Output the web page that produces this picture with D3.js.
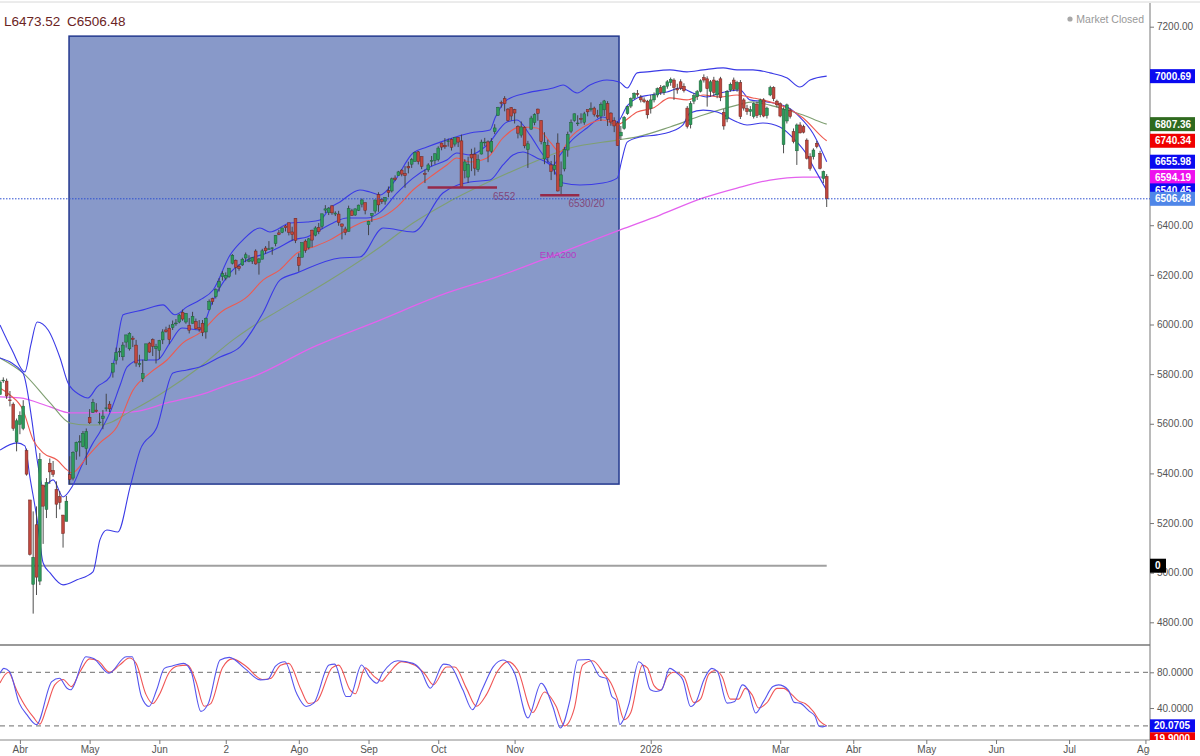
<!DOCTYPE html>
<html>
<head>
<meta charset="utf-8">
<script src="https://cdn.jsdelivr.net/npm/d3@7"></script>
<style>
  html, body { margin: 0; padding: 0; background: #fff; }
  svg { display: block; font-family: "Liberation Sans", Arial, sans-serif; }
</style>
</head>
<body>
<div id="chart"></div>
<script>
// bar index 0 = 1 Apr 2025, first bar (-6) = 24 Mar 2025, last bar (243) = 20 Mar 2026
const firstBar = -6;

const opens = [
  5718, 5776, 5772, 5696, 5679, 5527,
  5598, 5581, 5492, 5293, 4953, 5193, 4966, 5353, 5255, 5441, 5412, 5335, 5306, 5232, 5207, 5395, 5381, 5489, 5529, 5508, 5500,
  5626, 5645, 5655, 5606, 5621, 5663, 5679, 5808, 5856, 5891, 5870, 5929, 5902, 5945, 5917, 5841, 5782, 5855, 5925, 5939, 5903,
  5896, 5938, 5978, 5985, 5988, 6005, 6010, 6049, 6010, 5997, 6005, 6012, 5987, 6005, 5970, 6060, 6104, 6112, 6151, 6193,
  6187, 6193, 6247, 6259, 6234, 6240, 6268, 6255, 6255, 6296, 6249, 6263, 6308, 6305, 6307, 6326, 6369, 6371, 6397, 6410, 6373, 6428,
  6271, 6271, 6336, 6310, 6380, 6360, 6390, 6396, 6461, 6451, 6478, 6445, 6445, 6405, 6385, 6375, 6458, 6441, 6460, 6485, 6491,
  6402, 6439, 6457, 6523, 6503, 6497, 6539, 6538, 6590, 6600, 6622, 6609, 6637, 6646, 6657, 6696, 6676, 6608, 6623, 6660, 6661,
  6664, 6731, 6722, 6738, 6746, 6727, 6754, 6740, 6621, 6594, 6686, 6686, 6624, 6687, 6734, 6736, 6698, 6777, 6843, 6895, 6910, 6868, 6874,
  6866, 6797, 6763, 6794, 6705, 6787, 6814, 6868, 6822, 6667, 6722, 6643, 6625, 6731, 6557, 6627, 6703, 6779, 6822,
  6812, 6830, 6815, 6866, 6866, 6872, 6842, 6840, 6865, 6890, 6852, 6822, 6812, 6760, 6790, 6850, 6880, 6912, 6930, 6915, 6905, 6900,
  6870, 6905, 6925, 6955, 6935, 6960, 6975, 6985, 6950, 6978, 6960, 6872, 6805, 6900, 6918, 6940, 6995, 6990, 6940, 6985,
  6925, 6990, 6855, 6828, 6945, 6985, 6948, 6975, 6905, 6870, 6858, 6838, 6888, 6845, 6905, 6842, 6925, 6955, 6900,
  6890, 6725, 6820, 6862, 6777, 6700, 6804, 6797, 6743, 6676, 6676, 6730, 6690, 6589, 6596
];
const highs = [
  5775, 5787, 5782, 5732, 5686, 5621,
  5650, 5695, 5500, 5293, 5247, 5267, 5482, 5353, 5381, 5460, 5450, 5368, 5329, 5233, 5309, 5469, 5489, 5528, 5554, 5571, 5581,
  5659, 5700, 5683, 5644, 5655, 5721, 5691, 5845, 5907, 5906, 5929, 5959, 5969, 5954, 5938, 5878, 5858, 5922, 5930, 5944, 5922,
  5938, 5981, 5991, 5999, 6016, 6022, 6043, 6060, 6046, 6026, 6051, 6024, 6018, 6018, 6028, 6101, 6108, 6146, 6187, 6215,
  6210, 6227, 6284, 6262, 6242, 6269, 6290, 6279, 6272, 6303, 6268, 6305, 6316, 6336, 6310, 6360, 6381, 6390, 6401, 6410, 6394, 6428,
  6287, 6330, 6343, 6349, 6382, 6396, 6409, 6446, 6481, 6473, 6481, 6456, 6458, 6407, 6394, 6479, 6466, 6467, 6483, 6508, 6491,
  6418, 6449, 6502, 6533, 6510, 6513, 6556, 6592, 6601, 6619, 6626, 6638, 6656, 6671, 6697, 6699, 6677, 6624, 6650, 6679, 6689,
  6718, 6733, 6751, 6749, 6750, 6753, 6755, 6765, 6666, 6676, 6708, 6713, 6685, 6745, 6752, 6742, 6751, 6807, 6877, 6902, 6920, 6872, 6876,
  6869, 6803, 6818, 6799, 6740, 6841, 6851, 6870, 6823, 6775, 6745, 6659, 6683, 6770, 6657, 6715, 6777, 6826, 6850,
  6843, 6851, 6857, 6866, 6895, 6878, 6865, 6895, 6905, 6900, 6855, 6835, 6818, 6800, 6840, 6880, 6915, 6935, 6945, 6925, 6915, 6905,
  6925, 6935, 6955, 6965, 6965, 6985, 6995, 6992, 6970, 6988, 6972, 6880, 6900, 6932, 6945, 6988, 7008, 7000, 6985, 6998,
  6985, 6998, 6868, 6945, 6975, 6995, 6982, 6985, 6912, 6885, 6880, 6895, 6898, 6910, 6912, 6878, 6962, 6960, 6906,
  6895, 6875, 6890, 6870, 6790, 6810, 6815, 6805, 6750, 6690, 6710, 6740, 6700, 6620, 6606
];
const lows = [
  5718, 5765, 5700, 5670, 5572, 5489,
  5558, 5574, 5391, 5069, 4835, 4910, 4950, 5116, 5220, 5358, 5386, 5220, 5255, 5101, 5207, 5356, 5372, 5455, 5468, 5505, 5434,
  5599, 5644, 5645, 5597, 5578, 5650, 5647, 5786, 5839, 5869, 5855, 5907, 5895, 5909, 5830, 5828, 5768, 5855, 5886, 5873, 5843,
  5861, 5921, 5967, 5921, 5978, 5995, 6005, 6015, 6003, 5964, 6004, 5980, 5971, 5953, 5943, 6057, 6080, 6105, 6133, 6177,
  6178, 6188, 6242, 6201, 6217, 6236, 6251, 6251, 6244, 6241, 6201, 6263, 6285, 6303, 6281, 6315, 6360, 6368, 6375, 6359, 6338, 6328,
  6213, 6271, 6289, 6302, 6311, 6355, 6364, 6386, 6449, 6441, 6442, 6437, 6398, 6343, 6360, 6375, 6438, 6438, 6458, 6472, 6444,
  6360, 6413, 6447, 6454, 6486, 6483, 6513, 6532, 6578, 6599, 6597, 6551, 6609, 6631, 6657, 6645, 6626, 6570, 6615, 6638, 6645,
  6657, 6702, 6708, 6717, 6701, 6717, 6715, 6551, 6589, 6570, 6618, 6600, 6615, 6685, 6719, 6654, 6691, 6767, 6841, 6874, 6859, 6818, 6822,
  6810, 6750, 6753, 6710, 6631, 6786, 6803, 6821, 6726, 6646, 6653, 6582, 6604, 6536, 6521, 6617, 6676, 6771, 6817,
  6800, 6810, 6805, 6839, 6858, 6838, 6832, 6820, 6840, 6800, 6801, 6775, 6720, 6745, 6785, 6845, 6872, 6908, 6918, 6895, 6892, 6830,
  6850, 6895, 6915, 6925, 6925, 6950, 6962, 6905, 6930, 6945, 6935, 6790, 6790, 6888, 6905, 6935, 6975, 6878, 6918, 6920,
  6912, 6900, 6785, 6815, 6938, 6940, 6938, 6828, 6862, 6845, 6840, 6830, 6832, 6835, 6835, 6830, 6920, 6900, 6875,
  6835, 6690, 6810, 6830, 6730, 6643, 6770, 6770, 6665, 6620, 6665, 6710, 6625, 6570, 6473.52
];
const closes = [
  5768, 5776, 5712, 5693, 5581, 5612,
  5633, 5671, 5397, 5074, 5062, 4982, 5457, 5268, 5363, 5406, 5396, 5276, 5283, 5158, 5288, 5376, 5485, 5525, 5529, 5561, 5569,
  5604, 5686, 5650, 5607, 5631, 5664, 5660, 5844, 5887, 5892, 5917, 5958, 5964, 5940, 5845, 5842, 5802, 5922, 5889, 5912, 5912,
  5936, 5970, 5971, 5939, 6000, 6006, 6038, 6022, 6045, 5977, 6033, 5983, 5981, 5968, 6025, 6092, 6092, 6141, 6173, 6205,
  6198, 6227, 6279, 6230, 6226, 6263, 6281, 6260, 6269, 6244, 6264, 6297, 6297, 6305, 6309, 6359, 6363, 6389, 6390, 6371, 6362, 6339,
  6238, 6330, 6299, 6345, 6340, 6389, 6374, 6446, 6466, 6469, 6450, 6449, 6411, 6396, 6370, 6467, 6439, 6466, 6481, 6502, 6460,
  6416, 6448, 6502, 6482, 6495, 6512, 6532, 6587, 6584, 6615, 6606, 6600, 6631, 6664, 6693, 6656, 6637, 6605, 6643, 6661, 6688,
  6711, 6715, 6716, 6740, 6714, 6753, 6735, 6553, 6655, 6644, 6671, 6630, 6664, 6735, 6735, 6699, 6738, 6792, 6875, 6891, 6890, 6822, 6840,
  6852, 6771, 6796, 6720, 6728, 6832, 6846, 6851, 6737, 6734, 6672, 6617, 6642, 6538, 6603, 6705, 6766, 6813, 6849,
  6812, 6829, 6849, 6857, 6870, 6846, 6840, 6887, 6901, 6827, 6816, 6800, 6721, 6775, 6835, 6878, 6910, 6932, 6928, 6905, 6898, 6845,
  6905, 6925, 6950, 6935, 6960, 6978, 6988, 6955, 6945, 6952, 6942, 6798, 6890, 6922, 6938, 6982, 6985, 6950, 6978, 6935,
  6980, 6915, 6800, 6938, 6968, 6948, 6975, 6838, 6872, 6858, 6866, 6890, 6842, 6905, 6840, 6872, 6955, 6910, 6885,
  6840, 6868, 6885, 6838, 6737, 6804, 6772, 6775, 6670, 6629, 6703, 6717, 6629, 6616, 6506.48
];

// indicator lines: [bar index, price]
const bbUpper = [[-6,5998],[-2.4,5898],[1.5,5809],[3.3,5918],[5.2,6010],[8.5,5978],[12.1,5865],[14.5,5764],[18.1,5716],[20.5,5704],[23.2,5748],[27.1,5789],[28.6,5869],[31.1,6039],[33.2,6047],[37.1,6059],[43.1,6079],[46.7,6039],[50.3,6071],[54.2,6099],[58.2,6139],[63.3,6280],[67.2,6341],[72.3,6389],[75.3,6373],[81.4,6409],[86.5,6413],[90.4,6421],[93.4,6470],[96.4,6494],[102.4,6542],[105.4,6534],[108.5,6522],[112.4,6570],[118.4,6691],[122.6,6715],[128.6,6744],[135.6,6772],[141.6,6784],[143.1,6832],[146.7,6905],[152.7,6933],[160.6,6953],[163.6,6965],[167.8,6933],[171.7,6965],[176.8,6985],[180.5,6977],[182.9,6953],[185.9,7014],[188.9,7018],[195.8,7026],[200.9,7018],[205.8,7026],[211.8,7034],[216,7026],[220.8,7026],[225.9,7014],[231.1,6993],[234.9,6957],[238,6985],[243,7000.69]];
const bbInner = [[-6,5865],[0.9,5805],[3.6,5615],[5.2,5454],[7,5346],[10,5374],[13,5305],[15.7,5346],[18.7,5434],[21.7,5515],[24.1,5567],[27.1,5644],[30.2,5756],[32.3,5829],[36.2,5857],[41.3,5857],[45.2,5926],[48.8,5986],[54.2,5978],[58.2,6099],[63.3,6208],[68.4,6260],[74.4,6288],[78.3,6312],[82.3,6341],[86.5,6353],[90.4,6381],[94.3,6409],[98.5,6429],[104.5,6429],[108.5,6453],[113.6,6530],[118.4,6590],[123.5,6635],[128.6,6663],[131.6,6691],[135.6,6683],[140.7,6723],[146.7,6816],[149.7,6824],[153.6,6764],[157.6,6683],[160.6,6643],[162.7,6683],[165.7,6735],[170.8,6792],[175.6,6836],[179.9,6816],[182.9,6881],[185.9,6913],[189.8,6925],[194.9,6937],[198.8,6953],[202.7,6933],[206.9,6917],[210.9,6933],[216.9,6945],[219.9,6905],[225,6897],[231.1,6876],[234.9,6836],[238.8,6772],[243,6655.98]];
const bbLower = [[-6,5494],[-0.9,5523],[1.5,5511],[3,5386],[5.2,5213],[7,5039],[9.1,4999],[13,4951],[17.2,4971],[22,5003],[24.1,5132],[26.2,5172],[29.5,5164],[33.2,5346],[36.2,5494],[41.3,5587],[46.1,5805],[50.3,5817],[54.2,5829],[60.3,5869],[66.3,5910],[73.2,6047],[78.3,6179],[83.5,6208],[96.4,6268],[102.4,6272],[109.4,6389],[118.4,6373],[127.4,6530],[135.6,6574],[141.6,6582],[145.5,6643],[148.5,6683],[151.5,6695],[155.7,6671],[159.7,6643],[163.6,6570],[168.7,6562],[175.6,6570],[179.9,6590],[181.3,6663],[182.9,6735],[186.8,6756],[191.9,6764],[195.8,6776],[199.7,6804],[201.8,6852],[205.8,6864],[210,6856],[216,6816],[219,6804],[223.8,6812],[228.9,6796],[233.5,6743],[236.5,6695],[239.5,6623],[243,6540.45]];
const ma20 = [[-6,5744],[-3,5716],[0.9,5656],[4,5535],[7,5483],[11.2,5454],[14.2,5414],[15.7,5402],[20.2,5466],[24.1,5523],[29.2,5587],[34.1,5736],[39.2,5805],[44.3,5857],[49.1,5926],[54.2,5966],[60.3,6047],[68.4,6111],[73.2,6179],[78.3,6220],[83.5,6288],[88.3,6312],[93.4,6341],[98.5,6381],[103.3,6413],[108.5,6429],[113.6,6474],[118.4,6542],[123.5,6594],[128.6,6643],[131.6,6671],[135.6,6655],[140.7,6671],[145.5,6752],[150.6,6796],[155.7,6792],[159.7,6735],[162.7,6695],[165.7,6752],[170.8,6804],[175.6,6824],[179.9,6804],[181.7,6816],[185.9,6856],[190.7,6872],[195.8,6913],[200.9,6905],[205.8,6925],[210.9,6917],[216,6925],[220.8,6913],[225.9,6897],[231.1,6872],[235.9,6832],[241.9,6752],[243,6740.34]];
const ma50 = [[-6,5865],[0.9,5805],[9.1,5684],[15.1,5603],[20.2,5595],[24.1,5595],[34.1,5656],[44.3,5736],[54.2,5829],[64.2,5938],[69.3,5986],[78.3,6059],[93.4,6179],[108.5,6312],[118.4,6409],[128.6,6490],[143.7,6590],[155.7,6660],[165.7,6711],[179.9,6743],[185.9,6756],[195.8,6796],[205.8,6844],[216,6884],[220.8,6897],[225.9,6884],[231.1,6864],[235.9,6844],[241.9,6812],[243,6807.36]];
const ema200 = [[-6,5708],[0,5704],[9.1,5668],[15.1,5644],[24.1,5644],[34.1,5648],[44.3,5684],[54.2,5716],[64.2,5764],[69.3,5785],[88.3,5909],[108.5,6018],[128.6,6127],[143.7,6192],[162.7,6288],[180.8,6381],[192.8,6441],[205.8,6510],[216,6550],[225.9,6582],[235.9,6594],[241.9,6594],[243,6594.19]];

// slow stochastic %K (blue) and %D (red): [bar index, value]
const stochK = [[-6,78.9],[-4.8,84.4],[-3.1,80.7],[-0.2,45.5],[2.1,32.6],[5,21.4],[9.6,69.6],[11.9,73.3],[14.2,62.2],[15.3,60.4],[19.9,97.4],[22.2,95.5],[26.8,78.9],[32,97.4],[33.8,97.4],[36.6,52.9],[38.9,41.8],[41.2,60.4],[43.5,84.4],[45.9,87],[49.3,90],[51.6,80.7],[54.5,36.3],[56.8,45.5],[60.3,93.7],[63.1,96.7],[67.7,84.4],[72.4,71.5],[74.7,72.2],[77,87],[79.8,91.8],[83.3,56.7],[86.2,41.8],[88.5,45.5],[93.1,88.1],[94.8,89.2],[98.3,52.9],[99.4,52.9],[102.9,88.1],[105.2,75.2],[107.5,67.8],[109.2,78.9],[113.8,93],[118.4,90],[120.7,82.6],[123.6,62.2],[127.6,89.2],[129.4,88.1],[133.4,60.4],[136.3,38.1],[139.2,60.4],[142.6,86.3],[145.5,93.7],[149,78.9],[153,29],[157,67.8],[160.5,41.8],[162.8,17.7],[165.7,49.2],[168,93.7],[171.4,94.4],[174.7,75.2],[176.6,73.3],[178.3,52.9],[179.5,49.2],[180.7,21.4],[181.8,27],[183.5,45.5],[186.4,91.8],[187.6,88.1],[189.9,60.4],[191.6,58.5],[193.3,60.4],[195.7,84.4],[198,78.9],[199.7,71.5],[202,41.8],[203.7,47.4],[206,71.5],[208.4,84.4],[210.1,80.7],[213,45.5],[215.3,47.4],[217.6,65.9],[219.3,60.4],[221.6,34.4],[224,47.4],[226.8,64.1],[228.5,65.9],[231.4,60.4],[233.2,46.3],[234.9,45.5],[237.8,36.3],[239.5,30.7],[240.7,19.6],[241.8,18.9],[243,20.07]];
const stochD = [[-6,68],[-3.5,80],[-1,60],[2,40],[4,30],[6,22],[8,40],[10.5,66],[13,72],[15.5,64],[18,80],[21,95],[23.5,93],[27,80],[30,88],[33,96],[35,90],[38,55],[40,45],[42,55],[45,80],[47.5,87],[50.5,88],[53,70],[55.5,42],[57.5,45],[61,85],[64,95],[68,87],[73,72],[75.5,73],[78.5,88],[81,90],[84.5,62],[87,45],[89.5,48],[94,85],[96,88],[99.5,60],[101,56],[104,85],[106.5,76],[109,70],[110.5,76],[115,92],[119,88],[122,78],[124.5,66],[128.5,86],[131,86],[134.5,62],[137.5,42],[140.5,55],[144,82],[147,92],[150,82],[154.5,35],[158,58],[161.5,42],[164,20],[167,40],[169.5,88],[172.5,93],[176,78],[178,68],[180,50],[182,27],[184,35],[187.5,88],[189,85],[191,65],[193,60],[195,75],[197,80],[200,75],[203,46],[205,50],[207.5,78],[209.5,82],[211.5,75],[214,50],[216.5,50],[218.5,62],[220.5,55],[222.5,40],[225,46],[228,62],[230,62],[232.5,55],[234.5,48],[236.5,45],[239,36],[241,25],[243,19.9]];

// axis ticks and labels
const priceTicks = [4800, 5000, 5200, 5400, 5600, 5800, 6000, 6200, 6400, 6600, 6800, 7000, 7200];
const stochTicks = [40, 80];
const monthIdx = [0, 21, 42, 62, 84, 105, 126, 149, 190, 229, 251, 273, 294, 316, 339];
const monthLabels = ["Abr", "May", "Jun", "2", "Ago", "Sep", "Oct", "Nov", "2026", "Mar", "Abr", "May", "Jun", "Jul", "Ago"];

// last-value tags on the price axis
const tagValues = [7000.69, 6807.36, 6740.34, 6655.98, 6594.19, 6540.45, 6506.48];
const tagColors = ["#0a0af0", "#2f6a1f", "#f00000", "#0a0af0", "#ee10ee", "#0a0af0", "#4f86e8"];

// drawn annotations
const boxArea = {from: 14.8, to: 180.45, low: 5357, high: 7162};
const supports = [{from: 122.8, to: 143.7, price: 6552, label: "6552", at: 142.5}, {from: 156.7, to: 168.5, price: 6521, label: "6530/20", at: 165.2}];
const hLinePrice = 5028;
const lastClose = 6506.48, lastLow = 6473.52;

const W = 1200, H = 756, axisX = 1150;
const svg = d3.select("#chart").append("svg").attr("width", W).attr("height", H);

const x = d3.scaleLinear().domain([0, 243]).range([19.9, 826.7]);
const y = d3.scaleLinear().domain([4800, 7200]).range([622.3, 26.7]);
const ys = d3.scaleLinear().domain([20, 80]).range([725.9, 672.3]);

const defs = svg.append("defs");
defs.append("clipPath").attr("id", "clipMain").append("rect").attr("x", 0).attr("y", 3).attr("width", axisX).attr("height", 640);
defs.append("clipPath").attr("id", "clipStoch").append("rect").attr("x", 0).attr("y", 646).attr("width", axisX).attr("height", 94);
defs.append("clipPath").attr("id", "clipMonths").append("rect").attr("x", 0).attr("y", 735).attr("width", axisX).attr("height", 21);
defs.append("clipPath").attr("id", "clipTags").append("rect").attr("x", axisX).attr("y", 646).attr("width", 50).attr("height", 94);

// frame lines
svg.append("line").attr("x1", 0).attr("x2", W).attr("y1", 2).attr("y2", 2).attr("stroke", "#d8d8d8");
svg.append("line").attr("x1", 0).attr("x2", axisX).attr("y1", 645).attr("y2", 645).attr("stroke", "#777").attr("stroke-width", 1.5);
svg.append("line").attr("x1", 0).attr("x2", axisX).attr("y1", 740).attr("y2", 740).attr("stroke", "#888");
svg.append("line").attr("x1", axisX).attr("x2", axisX).attr("y1", 3).attr("y2", 740).attr("stroke", "#777");

const main = svg.append("g").attr("clip-path", "url(#clipMain)");

// shaded box
main.append("rect")
  .attr("x", x(boxArea.from)).attr("y", y(boxArea.high))
  .attr("width", x(boxArea.to) - x(boxArea.from)).attr("height", y(boxArea.low) - y(boxArea.high))
  .attr("fill", "#8899c9").attr("stroke", "#23398e").attr("stroke-width", 1.5);

// grey horizontal line
main.append("line").attr("x1", x(firstBar)).attr("x2", x(243))
  .attr("y1", y(hLinePrice)).attr("y2", y(hLinePrice)).attr("stroke", "#a0a0a0").attr("stroke-width", 2);

const line = d3.line().x(d => x(d[0])).y(d => y(d[1])).curve(d3.curveMonotoneX);
const series = [
  {data: ema200, color: "#e462ee", w: 1.3},
  {data: ma50, color: "#7f9f72", w: 1.1},
  {data: bbLower, color: "#3a3ae6", w: 1.1},
  {data: bbUpper, color: "#3a3ae6", w: 1.1},
  {data: bbInner, color: "#3a3ae6", w: 1.1},
  {data: ma20, color: "#ee5a50", w: 1.1}
];
main.selectAll("path.ind").data(series).enter().append("path").attr("class", "ind")
  .attr("d", d => line(d.data)).attr("fill", "none")
  .attr("stroke", d => d.color).attr("stroke-width", d => d.w);

// candles
const bars = d3.range(opens.length).map(i => ({
  i: i + firstBar, o: opens[i], h: highs[i], l: lows[i], c: closes[i]
}));
const bw = 2.8;
const cg = main.append("g");
cg.selectAll("line").data(bars).enter().append("line")
  .attr("x1", d => x(d.i)).attr("x2", d => x(d.i))
  .attr("y1", d => y(d.h)).attr("y2", d => y(d.l))
  .attr("stroke", "#3b3b3b").attr("stroke-width", 0.9);
cg.selectAll("rect").data(bars).enter().append("rect")
  .attr("x", d => x(d.i) - bw / 2).attr("width", bw)
  .attr("y", d => y(Math.max(d.o, d.c)))
  .attr("height", d => Math.max(0.8, Math.abs(y(d.o) - y(d.c))))
  .attr("fill", d => d.c >= d.o ? "#2e9a5a" : "#c0473d")
  .attr("stroke", d => d.c >= d.o ? "#1f5f3a" : "#6e2622").attr("stroke-width", 0.5);

// support marks
supports.forEach(s => {
  main.append("line").attr("x1", x(s.from)).attr("x2", x(s.to))
    .attr("y1", y(s.price)).attr("y2", y(s.price)).attr("stroke", "#962a4a").attr("stroke-width", 2.5);
  main.append("text").attr("x", x(s.at)).attr("y", y(s.price) + 12)
    .attr("font-size", 10).attr("fill", "#83477a").text(s.label);
});
main.append("text").attr("x", x(156.6)).attr("y", y(6267)).attr("font-size", 9.5).attr("fill", "#b43ac4").text("EMA200");

// last close dotted line
svg.append("line").attr("x1", 0).attr("x2", axisX).attr("y1", y(lastClose)).attr("y2", y(lastClose))
  .attr("stroke", "#2d4fd0").attr("stroke-dasharray", "1.5,1.5");

// price axis
const pAxis = svg.append("g").attr("transform", `translate(${axisX},0)`)
  .call(d3.axisRight(y).tickValues(priceTicks).tickFormat(d3.format(".2f")).tickSize(4).tickPadding(3));
pAxis.select(".domain").remove();
pAxis.selectAll("line").attr("stroke", "#777");
pAxis.selectAll("text").attr("font-size", 10).attr("fill", "#555").attr("font-family", "Liberation Sans, Arial, sans-serif");

// tags
const tagG = svg.append("g");
tagValues.forEach((v, k) => {
  tagG.append("rect").attr("x", axisX).attr("y", y(v) - 7).attr("width", 45).attr("height", 14).attr("fill", tagColors[k]);
  tagG.append("text").attr("x", axisX + 5).attr("y", y(v) + 3.6).attr("font-size", 10).attr("font-weight", "bold")
    .attr("fill", "#fff").text(d3.format(".2f")(v));
});
tagG.append("rect").attr("x", axisX).attr("y", y(hLinePrice) - 7).attr("width", 16).attr("height", 14).attr("fill", "#000");
tagG.append("text").attr("x", axisX + 5).attr("y", y(hLinePrice) + 3.6).attr("font-size", 10).attr("font-weight", "bold")
  .attr("fill", "#fff").text("0");

// header texts
svg.append("text").attr("x", 4).attr("y", 26).attr("font-size", 13.5).attr("fill", "#6b2323")
  .text("L" + d3.format(".2f")(lastLow));
svg.append("text").attr("x", 67).attr("y", 26).attr("font-size", 13.5).attr("fill", "#6b2323")
  .text("C" + d3.format(".2f")(lastClose));
svg.append("circle").attr("cx", 1070).attr("cy", 19).attr("r", 2.6).attr("fill", "#a8a8a8");
svg.append("text").attr("x", 1144).attr("y", 23).attr("text-anchor", "end").attr("font-size", 10.5).attr("fill", "#999")
  .text("Market Closed");

// stochastic panel
const st = svg.append("g").attr("clip-path", "url(#clipStoch)");
[80, 20].forEach(v => {
  st.append("line").attr("x1", 0).attr("x2", axisX).attr("y1", ys(v)).attr("y2", ys(v))
    .attr("stroke", "#8a8a8a").attr("stroke-width", 1.2).attr("stroke-dasharray", "5,4");
});
const sline = d3.line().x(d => x(d[0])).y(d => ys(d[1])).curve(d3.curveMonotoneX);
st.append("path").attr("d", sline(stochD)).attr("fill", "none").attr("stroke", "#f05656").attr("stroke-width", 1.1);
st.append("path").attr("d", sline(stochK)).attr("fill", "none").attr("stroke", "#5555ee").attr("stroke-width", 1.1);

const sAxis = svg.append("g").attr("transform", `translate(${axisX},0)`)
  .call(d3.axisRight(ys).tickValues(stochTicks).tickFormat(d3.format(".4f")).tickSize(4).tickPadding(3));
sAxis.select(".domain").remove();
sAxis.selectAll("line").attr("stroke", "#777");
sAxis.selectAll("text").attr("font-size", 10).attr("fill", "#555").attr("font-family", "Liberation Sans, Arial, sans-serif");

const sTags = svg.append("g").attr("clip-path", "url(#clipTags)");
const kLast = stochK[stochK.length - 1][1], dLast = stochD[stochD.length - 1][1];
sTags.append("rect").attr("x", axisX).attr("y", ys(kLast) - 6.5).attr("width", 45).attr("height", 13).attr("fill", "#0a0af0");
sTags.append("text").attr("x", axisX + 4).attr("y", ys(kLast) + 3.6).attr("font-size", 10).attr("font-weight", "bold").attr("fill", "#fff").text("20.0705");
sTags.append("rect").attr("x", axisX).attr("y", ys(kLast) + 6.5).attr("width", 45).attr("height", 13).attr("fill", "#f00000");
sTags.append("text").attr("x", axisX + 4).attr("y", ys(kLast) + 16.6).attr("font-size", 10).attr("font-weight", "bold").attr("fill", "#fff").text(d3.format(".4f")(dLast));

// month axis (clip on an outer group so the clip box stays in page coordinates)
const mWrap = svg.append("g").attr("clip-path", "url(#clipMonths)");
const mAxis = mWrap.append("g").attr("transform", "translate(0,740)")
  .call(d3.axisBottom(x).tickValues(monthIdx).tickFormat((d, k) => monthLabels[k]).tickSize(4).tickPadding(2));
mAxis.select(".domain").remove();
mAxis.selectAll("line").attr("stroke", "#777");
mAxis.selectAll("text").attr("font-size", 10).attr("fill", "#555").attr("font-family", "Liberation Sans, Arial, sans-serif");
</script>
</body>
</html>
